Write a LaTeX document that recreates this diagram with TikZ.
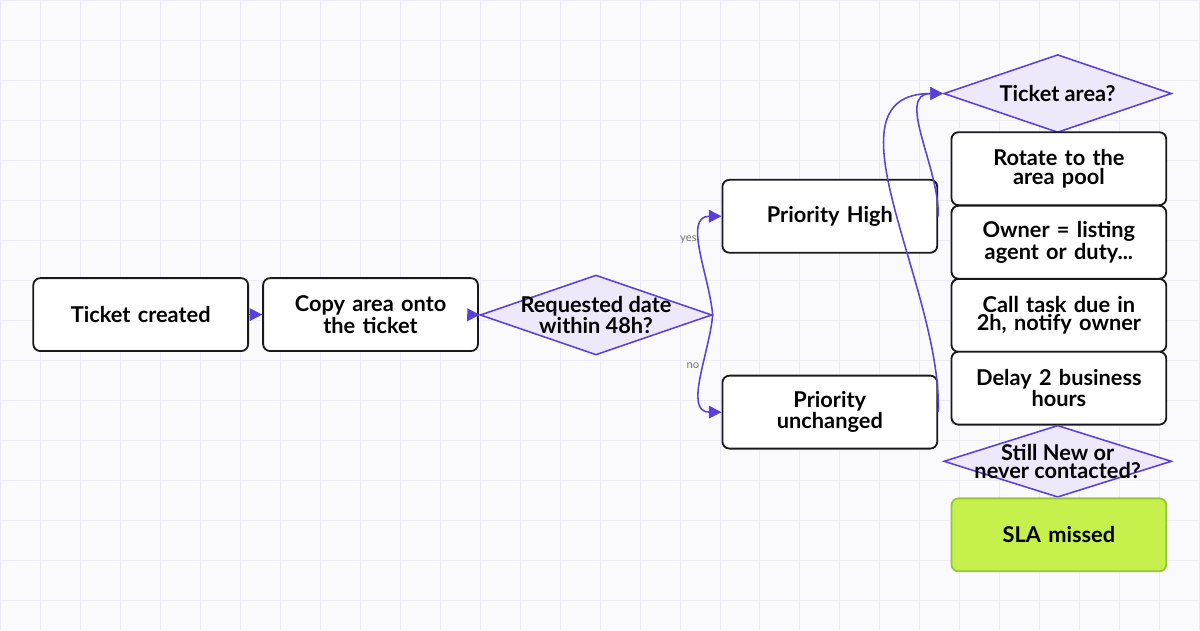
\documentclass[tikz,border=0pt]{standalone}
\usepackage{fontspec}
\setmainfont{Lato}
\usetikzlibrary{positioning,shapes.geometric,arrows.meta}
\definecolor{flowpurple}{HTML}{5B3FD9}
\definecolor{diafill}{HTML}{EDE9FB}
\definecolor{gridcol}{HTML}{ECEAF6}
\definecolor{bgcol}{HTML}{FAFAFD}
\definecolor{slafill}{HTML}{C6F04B}
\definecolor{sladraw}{HTML}{98C43A}
\begin{document}
\begin{tikzpicture}[y=-1cm]
    \tikzset{
        stepbox/.style = {rectangle, rounded corners=5pt, line width=1.3pt, minimum width=5.375cm, minimum height=1.825cm,
                       text width=5cm, align=center, draw=black!90, fill=white, font=\fontsize{15.5}{13}\selectfont\bfseries},
        check/.style = {diamond, aspect=2.9, inner sep=0pt, line width=1.1pt, draw=flowpurple, fill=diafill,
                        minimum width=5.8cm, minimum height=2cm},
        checktext/.style = {label={[align=center, font=\fontsize{15.5}{13}\selectfont\bfseries]center:#1}},
        arrow/.style = {line width=1.1pt, draw=flowpurple, -{Triangle[length=9pt,width=9pt]}},
        lbl/.style = {font=\fontsize{8}{9}\selectfont, text=black!55},
    }
    \fill[bgcol] (0,0) rectangle (30,15.75);
    \draw[gridcol, line width=0.6pt] (0,0) grid (30,15.75);
    \useasboundingbox (0,0) rectangle (30,15.75);

    \node (created) [stepbox] at (3.51,7.86) {Ticket created};
    \node (copy) [stepbox] at (9.26,7.86) {Copy area onto\\the ticket};
    \node (within) [check, checktext={Requested date\\within 48h?}] at (14.9,7.87) {};
    \node (high) [stepbox] at (20.75,5.4) {Priority High};
    \node (same) [stepbox] at (20.75,10.3) {Priority\\unchanged};
    \node (area) [check, minimum width=5.7cm, minimum height=1.95cm, checktext={Ticket area?}] at (26.45,2.33) {};
    \node (rotate) [stepbox] at (26.48,4.21) {Rotate to the\\area pool};
    \node (owner) [stepbox] at (26.48,6.05) {Owner = listing\\agent or duty...};
    \node (call) [stepbox] at (26.48,7.88) {Call task due in\\2h, notify owner};
    \node (delay) [stepbox] at (26.48,9.7) {Delay 2 business\\hours};
    \node (still) [check, minimum width=5.7cm, minimum height=1.8cm, checktext={Still New or\\never contacted?}] at (26.45,11.53) {};
    \node (sla) [stepbox, fill=slafill, draw=sladraw] at (26.48,13.37) {SLA missed};

    \draw [arrow] (created) -- (copy);
    \draw [arrow] (copy) -- (within);
    \draw [arrow] (within.east) to[out=95,in=180] node[lbl, pos=0.6, left=-1pt] {yes} (high.west);
    \draw [arrow] (within.east) to[out=-95,in=180] node[lbl, pos=0.4, left=-1pt] {no} (same.west);
    \draw [arrow] (high.east) to[out=88,in=180] (area.west);
    \draw [arrow] (same.east) to[out=88,in=180] (area.west);
\end{tikzpicture}
\end{document}
